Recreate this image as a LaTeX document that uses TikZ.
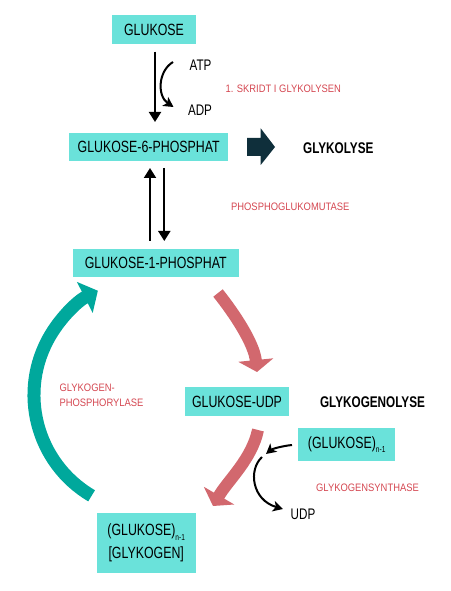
\documentclass[tikz,border=0pt]{standalone}
\usepackage{fontspec}
\setmainfont{Liberation Sans}[FakeStretch=0.76]
\newfontfamily\redf{Liberation Sans}[FakeStretch=0.87]
\usetikzlibrary{arrows.meta}
\definecolor{boxc}{RGB}{106,226,218}
\definecolor{tealc}{RGB}{0,168,156}
\definecolor{redarr}{RGB}{210,104,110}
\definecolor{redtxt}{RGB}{212,70,80}
\definecolor{darkc}{RGB}{15,47,59}
\newcommand{\subnm}{\raisebox{-3.5pt}{\fontsize{6.5}{6.5}\selectfont n-1}}
\begin{document}
\begin{tikzpicture}[x=0.75pt,y=-0.75pt,
  box/.style={fill=boxc,inner sep=0pt,align=center,font=\fontsize{12.2}{17}\selectfont},
  lbl/.style={inner sep=0pt,anchor=base,font=\fontsize{11.5}{13}\selectfont},
  redlbl/.style={inner sep=0pt,anchor=base,text=redtxt,font=\redf\fontsize{8.1}{10}\selectfont},
  boldlbl/.style={inner sep=0pt,anchor=base,font=\bfseries\fontsize{11.6}{13}\selectfont},
  blarrow/.style={line width=1.5pt,-{Triangle[width=9pt,length=7.5pt]}},
  curvarrow/.style={line width=1.5pt,-{Stealth[width=8pt,length=7.5pt,inset=2pt]}},
  thickred/.style={draw=redarr,line width=9pt,-{Triangle[width=26pt,length=9pt]}},
  thickteal/.style={draw=tealc,line width=9.75pt,-{Triangle[width=25.5pt,length=11pt]}}]
\useasboundingbox (0,0) rectangle (450,591);

% boxes
\node[box,minimum width=62.6pt,minimum height=21.75pt] (glu) at (154,29.5) {GLUKOSE};
\node[box,minimum width=119.5pt,minimum height=20.5pt] (g6p) at (148.7,147) {GLUKOSE-6-PHOSPHAT};
\node[box,minimum width=124.5pt,minimum height=21pt] (g1p) at (155.8,263) {GLUKOSE-1-PHOSPHAT};
\node[box,minimum width=78pt,minimum height=21.4pt] (gudp) at (237,401.5) {GLUKOSE-UDP};
\node[box,minimum width=72.5pt,minimum height=24.5pt] (glun) at (346.7,444.7) {(GLUKOSE)\subnm};
\node[box,minimum width=74.25pt,minimum height=44.5pt] (glyk) at (146.2,543) {(GLUKOSE)\subnm\\{}[GLYKOGEN]};

% labels
\node[lbl] (atp) at (200.5,70.7) {ATP};
\node[lbl] (adp) at (200,115.7) {ADP};
\node[redlbl] (skridt) at (283.3,92.7) {1. SKRIDT I GLYKOLYSEN};
\node[boldlbl] (glykolyse) at (338.3,154) {GLYKOLYSE};
\node[redlbl] (pgm) at (290.3,211) {PHOSPHOGLUKOMUTASE};
\node[boldlbl] (glykogenolyse) at (372.5,407.3) {GLYKOGENOLYSE};
\node[redlbl,anchor=base west] (gp1) at (59.3,391.7) {GLYKOGEN-};
\node[redlbl,anchor=base west] (gp2) at (59.3,406) {PHOSPHORYLASE};
\node[redlbl] (gs) at (367.5,491) {GLYKOGENSYNTHASE};
\node[lbl] (udp) at (303,519.3) {UDP};

% glukose -> g6p
\coordinate (a1) at (155,51.7);
\coordinate (a2) at (155,122);
\draw[blarrow] (a1) -- (a2);
\coordinate (c1) at (173,62);
\coordinate (c2) at (173.5,107);
\draw[curvarrow] (c1) .. controls (158,71) and (157,96) .. (c2);

% dark arrow
\fill[darkc] (247,138) -- (260.7,138) -- (260.7,128.3) -- (275,147) -- (260.7,165) -- (260.7,156) -- (247,156) -- cycle;

% g6p <-> g1p
\coordinate (u1) at (150,241);
\coordinate (u2) at (150,168);
\coordinate (d1) at (164.3,168);
\coordinate (d2) at (164.3,241);
\draw[blarrow] (u1) -- (u2);
\draw[blarrow] (d1) -- (d2);

% red arrow g1p -> glukose-udp
\coordinate (r1s) at (218,293);
\coordinate (r1e) at (257,372);
\draw[thickred] (r1s) .. controls (235.4,314.8) and (254.2,344) .. (r1e);

% red arrow glukose-udp -> glykogen
\coordinate (r2s) at (258,430);
\coordinate (r2e) at (213,506);
\draw[thickred] (r2s) .. controls (251.7,459.4) and (228,480.2) .. (r2e);

% black arrows glykogensynthase
\coordinate (k1) at (292,445);
\coordinate (k2) at (266,454);
\draw[curvarrow] (k1) .. controls (282,446) and (272,449) .. (k2);
\coordinate (k3) at (262,457);
\coordinate (k4) at (283,509);
\draw[curvarrow] (k3) .. controls (248,470) and (252,500) .. (k4);

% teal arc glykogen -> g1p
\coordinate (ts) at (91.6,495.8);
\draw[thickteal] (ts) arc[start angle=120.5,end angle=243,radius=117];
\end{tikzpicture}
\end{document}
